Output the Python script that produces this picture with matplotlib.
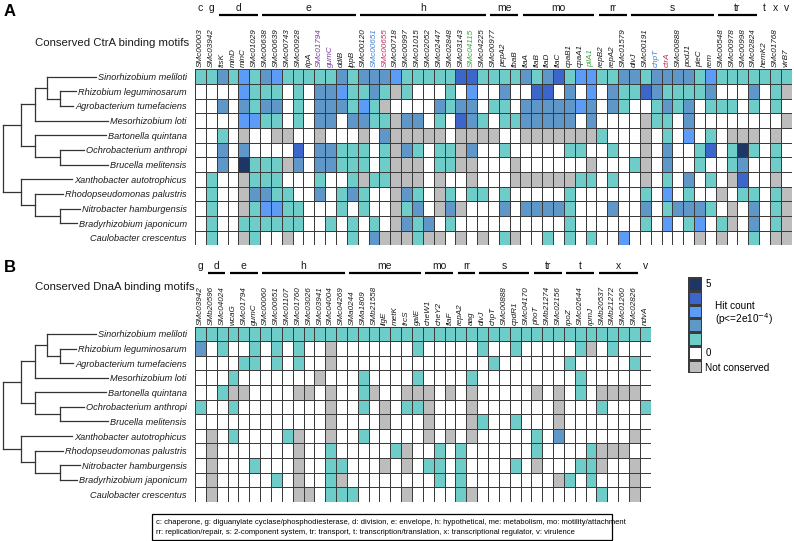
import numpy as np
import matplotlib
matplotlib.use('Agg')
import matplotlib.pyplot as plt
from matplotlib.colors import ListedColormap, BoundaryNorm
from matplotlib.patches import Rectangle

plt.rcParams['font.family'] = ['Liberation Sans', 'DejaVu Sans']

W, H = 794, 541

species = ['Sinorhizobium meliloti', 'Rhizobium leguminosarum', 'Agrobacterium tumefaciens',
           'Mesorhizobium loti', 'Bartonella quintana', 'Ochrobacterium anthropi',
           'Brucella melitensis', 'Xanthobacter autotrophicus', 'Rhodopseudomonas palustris',
           'Nitrobacter hamburgensis', 'Bradyrhizobium japonicum', 'Caulobacter crescentus']

# ---- panel A: CtrA ----
genes_a = ['SMc00003', 'SMc03942', 'ftsK', 'minD', 'minC', 'SMc01029',
           'SMc00638', 'SMc00639', 'SMc00743', 'SMc00928', 'rlpA', 'SMc01794', 'gumC', 'ddlB', 'lppB',
           'SMc00120', 'SMc00651', 'SMc00655', 'SMc00718', 'SMc00997', 'SMc01015', 'SMc02052',
           'SMc02447', 'SMc02848', 'SMc03143', 'SMc04115', 'SMc04225',
           'SMc00977', 'pepA2', 'fbaB',
           'flaA', 'flaB', 'flaD', 'flaC', 'cpaB1', 'cpaA1', 'pilA1',
           'repB2', 'repA2', 'SMc01579',
           'divJ', 'SMc00191', 'chpT', 'ctrA', 'SMc00888', 'podJ1', 'pleC', 'rem',
           'SMc00548', 'SMc00978', 'SMc00998', 'SMc02824',
           'hemK2', 'SMc01768', 'virB7']
groups_a = ['c', 'g', 'd', 'e', 'h', 'me', 'mo', 'rr', 's', 'tr', 't', 'x', 'v']
group_sizes_a = [1, 1, 4, 9, 12, 3, 7, 3, 8, 4, 1, 1, 1]

# -1 = not conserved, 0..5 = hit count
ctra_hits = [
    [1,1,2,1,3,1,2,3,1,1,1,1,1,2,1,2,2,2, 3,1,1,1,1,1,4,4,1,1,1,1,2,1,2,4,1,3,3, 1,1,2,2,1,2,2,2,2,1,3,1,1,1,1,1,1,1],
    [0,0,0,0,3,1,1,1,0,1,0,2,2,3,1,1,2,1, -1,1,0,0,0,1,0,3,0,0,2,0,0,4,4,0,2,0,3, 0,2,1,1,4,2,1,1,1,1,2,0,0,0,2,0,1,-1],
    [0,0,2,0,2,1,2,2,0,1,0,2,2,2,1,3,1,-1, 0,0,0,0,2,1,2,2,0,1,1,0,2,2,2,2,2,3,2, 0,2,1,0,0,1,2,1,2,0,1,1,1,0,1,0,1,0],
    [0,0,0,0,3,3,1,1,0,1,0,2,2,0,2,2,1,1, -1,2,2,0,1,0,4,2,1,0,1,1,2,2,2,2,2,0,2, 0,0,0,0,-1,1,1,0,2,0,0,0,0,0,0,0,0,-1],
    [0,0,1,0,-1,0,0,-1,-1,0,0,-1,0,0,0,-1,0,2, -1,-1,-1,-1,-1,0,-1,-1,-1,-1,0,0,-1,-1,-1,-1,-1,-1,-1, 1,0,0,0,-1,0,1,0,3,0,1,0,-1,-1,-1,0,-1,0],
    [0,0,2,0,2,0,0,0,0,4,0,2,2,1,1,1,0,1, -1,2,1,0,1,1,-1,2,0,0,1,0,0,0,0,0,1,1,0, 0,1,0,0,-1,0,2,0,0,1,4,0,1,5,1,0,1,0],
    [0,0,2,0,5,1,1,1,-1,2,0,2,2,1,1,1,0,1, -1,-1,-1,0,1,1,-1,-1,0,0,0,-1,0,0,0,0,0,0,-1, 0,0,0,1,-1,0,2,0,0,1,0,0,1,2,0,0,1,0],
    [0,1,0,0,-1,1,1,1,0,0,0,1,0,0,1,-1,1,1, -1,-1,-1,0,-1,0,0,-1,0,0,0,-1,-1,-1,-1,-1,-1,1,1, 0,1,0,0,-1,0,1,0,2,0,1,0,-1,4,0,0,-1,0],
    [0,1,0,0,-1,2,2,1,1,0,0,2,0,1,2,1,0,0, -1,2,1,0,-1,1,0,1,1,0,1,0,0,0,0,0,1,0,0, 0,0,0,0,1,0,3,0,1,0,0,-1,0,1,1,0,1,-1],
    [0,1,0,0,-1,1,3,3,1,1,0,0,0,1,0,1,0,0, -1,1,2,0,-1,2,-1,0,0,0,2,0,2,2,2,2,1,0,0, 0,2,0,0,2,0,1,2,2,2,1,0,-1,0,2,0,1,-1],
    [0,1,0,0,1,1,1,1,1,1,0,0,1,0,1,0,1,0, -1,2,1,2,0,1,0,0,0,0,0,0,0,0,0,0,1,0,0, 0,0,0,0,1,0,3,0,1,3,0,1,-1,0,2,0,1,-1],
    [0,1,0,0,-1,1,0,0,-1,0,0,0,0,0,1,0,2,-1, -1,-1,1,-1,-1,0,-1,0,-1,0,1,-1,0,0,1,0,1,0,1, 0,0,3,0,0,0,0,0,0,-1,0,-1,0,0,1,0,-1,-1],
]

# ---- panel B: DnaA ----
genes_b = ['SMc03942', 'SMb20596', 'SMc04024', 'wcaG', 'SMc01794', 'gumC',
           'SMc00060', 'SMc00651', 'SMc01107', 'SMc01760', 'SMc03026', 'SMc03941', 'SMc04004', 'SMc04269',
           'SMa0244', 'SMa1809', 'SMb21558', 'ligE', 'metK', 'frcS', 'galE',
           'cheW1', 'cheY2', 'flaF', 'repA2', 'aag',
           'divJ', 'chpT', 'SMc00888', 'cpdR1', 'SMc04170',
           'phoT', 'SMb21274', 'SMc02156', 'rpoZ', 'SMc02644', 'rpmJ',
           'SMb20537', 'SMb21272', 'SMc01260', 'SMc02826', 'ndvA']
groups_b = ['g', 'd', 'e', 'h', 'me', 'mo', 'rr', 's', 'tr', 't', 'x', 'v']
group_sizes_b = [1, 2, 3, 8, 7, 3, 2, 5, 3, 3, 4, 1]

dnaa_hits = [
    [1]*42,
    [2,0,1,0,0,1,0,1,0,1,0,0,-1,0,0,0,0,0, 0,0,1,0,0,0,0,0,1,0,0,1,0,0,0,0,0,1,-1,0,1,0,0,0],
    [0,0,0,0,1,1,0,1,0,1,0,0,-1,0,0,0,0,0, 0,0,0,0,0,0,0,0,0,1,0,0,0,0,0,0,1,0,0,0,0,0,1,0],
    [0,0,0,1,0,0,0,0,0,0,0,-1,0,0,0,1,0,0, 0,0,1,0,0,0,0,1,0,0,0,0,0,0,0,0,0,1,0,0,0,0,0,0],
    [0,0,1,-1,-1,0,0,0,0,-1,-1,0,-1,0,0,1,-1,0, 0,-1,-1,-1,0,-1,0,-1,0,0,0,0,0,-1,0,-1,0,1,0,-1,-1,-1,-1,0],
    [1,0,0,1,0,0,0,0,0,0,0,0,-1,0,0,1,0,-1, 0,1,1,-1,0,0,0,-1,0,0,0,0,0,0,0,-1,0,0,0,1,0,0,0,1],
    [0,0,0,0,0,0,0,0,0,0,0,0,-1,0,0,0,0,-1, 0,0,0,-1,0,0,0,-1,1,0,0,1,0,0,0,-1,0,0,0,0,0,0,0,0],
    [0,-1,0,1,0,0,0,0,1,-1,0,0,-1,0,0,1,0,0, 0,0,0,-1,0,-1,0,-1,0,0,0,0,0,1,0,2,0,0,0,0,0,0,-1,0],
    [0,-1,0,0,0,0,0,0,0,-1,0,0,1,0,0,0,0,0, 1,-1,0,0,1,0,1,0,0,0,0,0,0,1,0,0,0,0,1,-1,-1,-1,0,0],
    [0,-1,0,0,0,1,0,0,0,-1,0,0,1,1,0,0,0,-1, 0,-1,0,1,1,0,1,0,0,0,0,1,0,-1,0,0,0,1,1,-1,0,0,-1,0],
    [0,-1,0,0,0,0,0,1,0,-1,0,0,1,-1,0,0,0,0, 0,0,0,0,1,0,1,0,0,0,0,0,0,0,0,-1,1,0,1,0,0,0,-1,0],
    [0,-1,0,0,0,0,0,0,0,-1,-1,0,1,1,1,0,0,0, 0,-1,0,0,0,0,1,-1,0,0,0,0,0,0,0,0,0,0,0,1,0,0,-1,0],
]

# coloured gene names (panel A only)
label_colors = {'SMc01794': '#7a3d9c', 'gumC': '#7a3d9c', 'SMc00651': '#3f7fd6',
                'SMc00655': '#c4306b', 'SMc04115': '#3aa83a', 'pilA1': '#3aa83a',
                'chpT': '#3f7fd6', 'ctrA': '#c4306b'}

legend_levels = [5, 4, 3, 2, 1, 0, -1]

colors = ['#bdbdbd', '#ffffff', '#6fcdc9', '#5f97c9', '#5d9cf6', '#3d66cb', '#1d3665']
cmap = ListedColormap(colors)
norm = BoundaryNorm(np.arange(-1.5, 6.5, 1), cmap.N)

fig = plt.figure(figsize=(W / 100, H / 100), dpi=100)
bg = fig.add_axes([0, 0, 1, 1])
bg.set_xlim(0, W)
bg.set_ylim(H, 0)
bg.axis('off')


def px_axes(x0, y0, x1, y1):
    return fig.add_axes([x0 / W, 1 - y1 / H, (x1 - x0) / W, (y1 - y0) / H])


def heatmap(data, genes, groups, sizes, box, colored):
    x0, y0, x1, y1 = box
    arr = np.array(data)
    ax = px_axes(*box)
    ax.pcolormesh(arr, cmap=cmap, norm=norm, edgecolors='#3b3b3b', linewidth=0.6)
    ax.set_xlim(0, arr.shape[1])
    ax.set_ylim(arr.shape[0], 0)
    ax.xaxis.tick_top()
    ax.set_xticks(np.arange(arr.shape[1]) + 0.5)
    ax.set_xticklabels(genes, rotation=90, fontsize=5.9, fontstyle='italic')
    for t in ax.get_xticklabels():
        c = label_colors.get(t.get_text(), '#1a1a1a') if colored else '#1a1a1a'
        t.set_color(c)
    ax.set_yticks(np.arange(arr.shape[0]) + 0.5)
    ax.set_yticklabels(species, fontsize=6.6, fontstyle='italic', color='#1a1a1a')
    ax.tick_params(length=0, pad=1.5, axis='x')
    ax.tick_params(length=0, pad=6, axis='y')
    for s in ax.spines.values():
        s.set_visible(False)

    # category letters and bars above the gene names
    start = 0
    tr = ax.get_xaxis_transform()
    h_ax = y1 - y0
    for g, n in zip(groups, sizes):
        ax.text(start + n / 2, 1 + 61 / h_ax, g, transform=tr, ha='center',
                va='center', fontsize=7.5, color='#1a1a1a', clip_on=False)
        if n > 1:
            ax.plot([start + 0.2, start + n - 0.2], [1 + 54 / h_ax] * 2, transform=tr,
                    color='black', lw=1.6, clip_on=False, solid_capstyle='butt')
        start += n
    return ax


ax_a = heatmap(ctra_hits, genes_a, groups_a, group_sizes_a, (195, 69.3, 791.7, 245.3), True)
ax_b = heatmap(dnaa_hits, genes_b, groups_b, group_sizes_b, (195, 326.7, 650.7, 501.7), False)

# dendrogram: (node x, child, child); ints are species rows
tree = (3, (21, (35, (47, 0, (60, 1, 2)), 3), (35, 4, (60, 5, 6))),
        (21, 7, (35, 8, (60, 9, 10))))

fig.canvas.draw()
renderer = fig.canvas.get_renderer()


def draw_tree(ax, top, bottom):
    rh = (bottom - top) / 12
    ends = [t.get_window_extent(renderer).x0 - 2 for t in ax.get_yticklabels()]

    def node(n):
        if isinstance(n, int):
            return ends[n], top + (n + 0.5) * rh
        x, a, b = n
        xa, ya = node(a)
        xb, yb = node(b)
        bg.plot([x, x], [ya, yb], color='#333333', lw=0.9)
        bg.plot([x, xa], [ya, ya], color='#333333', lw=0.9)
        bg.plot([x, xb], [yb, yb], color='#333333', lw=0.9)
        return x, (ya + yb) / 2

    node(tree)


draw_tree(ax_a, 69.3, 245.3)
draw_tree(ax_b, 326.7, 501.7)

bg.text(4, 12, 'A', fontsize=12, fontweight='bold', va='center')
bg.text(4, 268, 'B', fontsize=12, fontweight='bold', va='center')
bg.text(35, 43, 'Conserved CtrA binding motifs', fontsize=8.2, va='center', color='#1a1a1a')
bg.text(35, 287, 'Conserved DnaA binding motifs', fontsize=8.2, va='center', color='#1a1a1a')

# legend
ax_l = px_axes(688, 277.3, 702, 373.3)
ax_l.pcolormesh(np.array(legend_levels)[:, None], cmap=cmap, norm=norm,
                edgecolors='#3b3b3b', linewidth=0.8)
ax_l.set_ylim(len(legend_levels), 0)
ax_l.axis('off')
bg.text(706, 284, '5', fontsize=7, va='center')
bg.text(706, 353, '0', fontsize=7, va='center')
bg.text(715, 306, 'Hit count', fontsize=7.2, va='center')
bg.text(715, 319, '(p<=2e10$^{-4}$)', fontsize=7.2, va='center')
bg.text(705, 368, 'Not conserved', fontsize=7.2, va='center')

# category key
bg.add_patch(Rectangle((152, 514), 460, 26, fill=False, ec='black', lw=0.9))
bg.text(156, 522, 'c: chaperone, g: diguanylate cyclase/phosphodiesterase, d: division, e: envelope, '
        'h: hypothetical, me: metabolism, mo: motility/attachment', fontsize=5.5, va='center')
bg.text(156, 532, 'rr: replication/repair, s: 2-component system, tr: transport, '
        't: transcription/translation, x: transcriptional regulator, v: virulence', fontsize=5.5, va='center')

fig.savefig('out.png', dpi=100)
